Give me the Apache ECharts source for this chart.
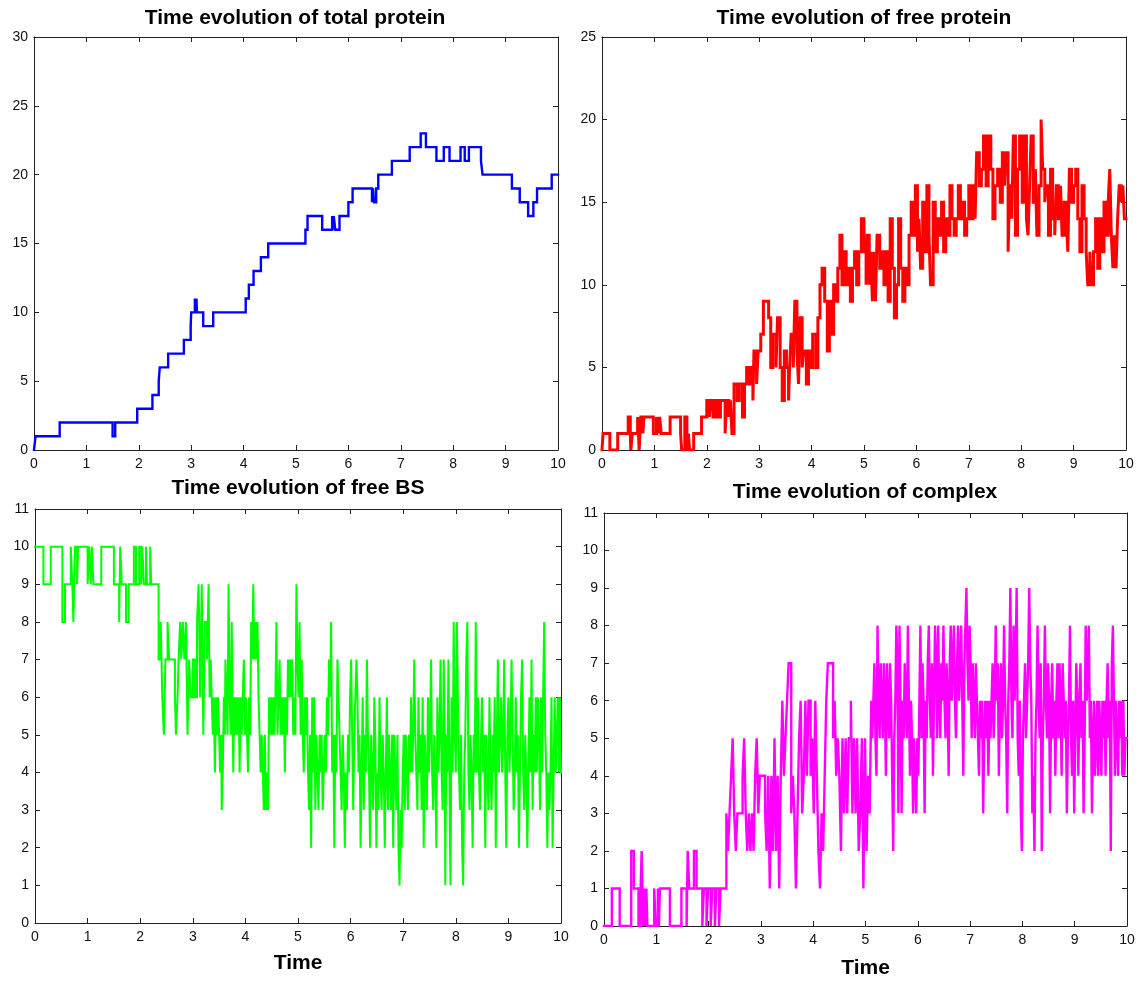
<!DOCTYPE html>
<html>
<head>
<meta charset="utf-8">
<script src="https://cdn.jsdelivr.net/npm/echarts@6/dist/echarts.min.js"></script>
<style>
  html, body { margin: 0; padding: 0; background: #fff; }
  #main { width: 1141px; height: 981px; }
</style>
</head>
<body>
<div id="main"></div>
<script>
// time axis ticks shared by all four panels
var timeTicks = [0, 1, 2, 3, 4, 5, 6, 7, 8, 9, 10];

// [time, count] pairs, drawn as stairs
var totalProtein = [
  [0,0],[0.03,1],[0.49,2],[1.50,1],[1.55,2],[1.97,3],[2.26,4],[2.38,5],[2.40,6],[2.56,7],
  [2.86,8],[2.99,9],[3.00,10],[3.07,11],[3.08,10],[3.10,11],[3.11,10],[3.23,9],[3.42,10],
  [4.04,11],[4.10,12],[4.19,13],[4.33,14],[4.47,15],[5.18,16],[5.22,17],[5.50,16],[5.69,17],
  [5.70,16],[5.72,17],[5.75,16],[5.83,17],[6.00,18],[6.08,19],[6.45,18],[6.47,19],[6.49,18],
  [6.53,19],[6.57,20],[6.83,21],[7.17,22],[7.38,23],[7.48,22],[7.68,21],[7.82,22],[7.93,21],
  [8.14,22],[8.22,21],[8.30,22],[8.53,21],[8.56,20],[9.12,19],[9.27,18],[9.43,17],[9.53,18],
  [9.60,19],[9.88,20],[10,20]
];

var freeProtein = [
  [0,0],[0.02,1],[0.15,0],[0.30,1],[0.50,2],[0.54,1],[0.55,0],[0.58,1],[0.68,2],[0.71,0],
  [0.74,2],[0.78,1],[0.80,2],[0.98,1],[1.04,2],[1.07,1],[1.10,2],[1.13,1],[1.30,2],[1.50,1],
  [1.52,0],[1.58,2],[1.62,0],[1.65,1],[1.67,0],[1.75,1],[1.90,2],[2.00,3],[2.05,2],[2.08,3],
  [2.12,2],[2.17,3],[2.22,2],[2.26,3],[2.35,1],[2.38,3],[2.42,2],[2.45,3],[2.48,1],[2.52,4],
  [2.58,3],[2.62,4],[2.68,2],[2.72,4],[2.76,5],[2.80,4],[2.84,5],[2.88,3],[2.90,6],[2.95,4],
  [2.98,6],[3.03,7],[3.08,9],[3.18,8],[3.22,5],[3.26,7],[3.32,5],[3.35,8],[3.40,5],[3.44,3],
  [3.48,6],[3.52,5],[3.56,3],[3.58,5],[3.61,7],[3.65,5],[3.68,9],[3.72,6],[3.75,4],[3.78,8],
  [3.82,5],[3.85,6],[3.90,4],[3.94,6],[3.98,5],[4.02,7],[4.08,5],[4.12,8],[4.16,10],[4.20,11],
  [4.25,9],[4.30,6],[4.34,9],[4.38,7],[4.42,10],[4.46,9],[4.50,11],[4.54,13],[4.58,10],[4.62,12],
  [4.66,10],[4.70,11],[4.74,9],[4.78,11],[4.82,12],[4.86,10],[4.90,12],[4.95,14],[5.00,12],[5.04,10],
  [5.06,13],[5.10,10],[5.13,12],[5.16,9],[5.19,12],[5.22,9],[5.25,13],[5.30,11],[5.34,12],[5.38,10],
  [5.42,12],[5.46,9],[5.50,14],[5.54,11],[5.58,8],[5.62,10],[5.66,14],[5.70,11],[5.74,9],[5.78,11],
  [5.82,10],[5.86,13],[5.90,15],[5.94,13],[5.98,16],[6.02,12],[6.05,14],[6.08,11],[6.12,15],[6.16,12],
  [6.20,16],[6.24,13],[6.27,10],[6.32,15],[6.36,12],[6.40,14],[6.44,13],[6.48,15],[6.52,12],[6.56,14],
  [6.60,13],[6.64,16],[6.68,14],[6.72,13],[6.76,14],[6.80,16],[6.84,14],[6.88,15],[6.92,13],[6.96,14],
  [7.00,16],[7.04,14],[7.08,16],[7.12,14],[7.15,18],[7.20,16],[7.24,17],[7.28,19],[7.33,16],[7.37,19],
  [7.42,17],[7.46,14],[7.50,16],[7.55,17],[7.60,15],[7.64,18],[7.68,16],[7.71,18],[7.75,12],[7.78,16],
  [7.82,14],[7.85,19],[7.89,13],[7.93,17],[7.97,19],[8.02,15],[8.06,19],[8.10,14],[8.13,13],[8.16,16],
  [8.19,19],[8.23,15],[8.27,17],[8.30,13],[8.34,16],[8.38,20],[8.41,17],[8.45,15],[8.48,16],[8.52,13],
  [8.56,17],[8.60,14],[8.64,13],[8.67,16],[8.71,14],[8.75,16],[8.78,13],[8.82,15],[8.86,14],[8.89,12],
  [8.92,17],[8.96,15],[9.00,16],[9.04,17],[9.08,14],[9.12,12],[9.16,16],[9.20,14],[9.24,12],[9.27,10],
  [9.31,12],[9.34,10],[9.38,12],[9.42,14],[9.46,11],[9.50,14],[9.54,12],[9.58,15],[9.62,13],[9.66,15],
  [9.69,17],[9.72,13],[9.75,11],[9.78,13],[9.81,11],[9.84,14],[9.87,16],[9.91,15],[9.94,16],[9.97,14],
  [10,14]
];

var freeBS = [
  [0,10],[0.16,9],[0.30,10],[0.52,8],[0.57,9],[0.68,10],[0.71,9],[0.73,8],[0.76,10],[0.80,9],
  [0.82,10],[1.00,9],[1.03,10],[1.06,9],[1.08,10],[1.11,9],[1.26,10],[1.50,9],[1.60,8],[1.62,10],
  [1.65,9],[1.73,8],[1.78,9],[1.88,10],[1.92,9],[1.98,10],[2.02,9],[2.04,10],[2.07,9],[2.11,10],
  [2.13,9],[2.19,10],[2.21,9],[2.35,7],[2.39,8],[2.42,6],[2.45,5],[2.48,7],[2.52,8],[2.55,7],
  [2.66,6],[2.68,5],[2.71,6],[2.73,7],[2.76,8],[2.78,7],[2.81,8],[2.84,7],[2.87,8],[2.90,5],
  [2.93,7],[2.96,6],[3.00,7],[3.04,6],[3.08,8],[3.11,9],[3.14,6],[3.17,9],[3.20,5],[3.23,8],
  [3.27,7],[3.30,9],[3.32,6],[3.34,7],[3.36,6],[3.38,5],[3.40,6],[3.42,4],[3.44,6],[3.46,5],
  [3.48,6],[3.50,5],[3.52,4],[3.54,5],[3.55,3],[3.57,4],[3.59,6],[3.61,5],[3.62,7],[3.64,6],
  [3.66,5],[3.68,9],[3.70,6],[3.72,5],[3.74,8],[3.76,5],[3.77,4],[3.79,6],[3.81,5],[3.83,6],
  [3.85,5],[3.87,6],[3.89,4],[3.91,6],[3.93,5],[3.95,6],[3.97,7],[3.99,5],[4.01,6],[4.03,5],
  [4.05,4],[4.07,6],[4.09,5],[4.11,8],[4.13,7],[4.15,9],[4.17,7],[4.19,8],[4.21,7],[4.23,8],
  [4.25,6],[4.27,5],[4.29,4],[4.31,5],[4.33,4],[4.35,3],[4.37,5],[4.39,3],[4.41,4],[4.43,3],
  [4.45,6],[4.47,5],[4.49,6],[4.51,5],[4.53,6],[4.55,5],[4.57,6],[4.59,8],[4.61,5],[4.63,6],
  [4.65,7],[4.67,5],[4.69,6],[4.71,5],[4.73,6],[4.75,4],[4.77,6],[4.79,5],[4.81,7],[4.83,6],
  [4.85,7],[4.87,6],[4.89,7],[4.91,5],[4.93,6],[4.95,5],[4.97,9],[4.99,7],[5.01,6],[5.03,8],
  [5.05,5],[5.07,7],[5.09,5],[5.11,4],[5.13,6],[5.15,5],[5.17,6],[5.19,4],[5.21,3],[5.23,5],
  [5.25,2],[5.27,6],[5.29,4],[5.31,6],[5.33,3],[5.35,5],[5.37,4],[5.39,3],[5.41,5],[5.43,4],
  [5.45,5],[5.47,3],[5.49,4],[5.51,5],[5.53,4],[5.55,6],[5.57,5],[5.59,7],[5.61,6],[5.63,8],
  [5.65,4],[5.67,5],[5.69,2],[5.71,5],[5.73,4],[5.75,7],[5.77,6],[5.79,5],[5.81,4],[5.83,3],
  [5.85,5],[5.87,4],[5.89,2],[5.91,4],[5.93,3],[5.95,5],[5.97,4],[5.99,6],[6.01,7],[6.03,5],
  [6.05,3],[6.07,5],[6.09,6],[6.11,7],[6.13,6],[6.15,4],[6.17,5],[6.19,2],[6.21,4],[6.23,6],
  [6.25,3],[6.27,5],[6.29,4],[6.31,7],[6.33,5],[6.35,4],[6.37,2],[6.39,5],[6.41,4],[6.43,3],
  [6.45,6],[6.47,5],[6.49,2],[6.51,4],[6.53,3],[6.55,6],[6.57,4],[6.59,3],[6.61,5],[6.63,4],
  [6.65,2],[6.67,4],[6.69,6],[6.71,3],[6.73,5],[6.75,4],[6.77,3],[6.79,5],[6.81,2],[6.83,5],
  [6.85,4],[6.87,3],[6.89,5],[6.91,2],[6.93,1],[6.95,3],[6.97,2],[6.99,4],[7.01,5],[7.03,3],
  [7.05,5],[7.07,4],[7.09,3],[7.11,5],[7.13,4],[7.15,6],[7.17,4],[7.19,5],[7.21,7],[7.23,5],
  [7.25,4],[7.27,3],[7.29,6],[7.31,4],[7.33,5],[7.35,3],[7.37,6],[7.39,2],[7.41,5],[7.43,4],
  [7.45,3],[7.47,6],[7.49,4],[7.51,5],[7.53,7],[7.55,4],[7.57,3],[7.59,5],[7.61,4],[7.63,2],
  [7.65,6],[7.67,4],[7.69,5],[7.71,7],[7.73,4],[7.75,3],[7.77,7],[7.79,5],[7.80,1],[7.82,5],
  [7.84,4],[7.86,7],[7.88,4],[7.89,2],[7.90,1],[7.92,6],[7.94,4],[7.96,8],[7.98,5],[8.00,4],
  [8.02,8],[8.04,6],[8.06,4],[8.08,3],[8.10,5],[8.12,2],[8.14,1],[8.16,4],[8.18,5],[8.20,7],
  [8.22,8],[8.24,4],[8.26,3],[8.28,5],[8.30,4],[8.32,2],[8.34,5],[8.36,4],[8.38,8],[8.40,4],
  [8.42,6],[8.44,4],[8.46,3],[8.48,5],[8.50,6],[8.52,4],[8.54,5],[8.56,2],[8.58,5],[8.60,4],
  [8.62,3],[8.64,6],[8.66,4],[8.68,3],[8.70,5],[8.72,4],[8.74,6],[8.76,2],[8.78,5],[8.80,7],
  [8.82,4],[8.84,5],[8.86,6],[8.88,4],[8.90,5],[8.92,7],[8.94,4],[8.96,2],[8.98,5],[9.00,6],
  [9.02,4],[9.04,5],[9.06,7],[9.08,5],[9.10,3],[9.12,4],[9.14,6],[9.16,4],[9.18,5],[9.20,2],
  [9.22,4],[9.24,6],[9.26,7],[9.28,4],[9.30,3],[9.32,5],[9.34,4],[9.36,2],[9.38,4],[9.40,6],
  [9.42,4],[9.44,7],[9.46,3],[9.48,5],[9.50,4],[9.52,6],[9.54,4],[9.56,6],[9.58,5],[9.60,3],
  [9.62,6],[9.64,4],[9.66,6],[9.68,8],[9.70,5],[9.72,4],[9.74,2],[9.76,4],[9.78,3],[9.80,4],
  [9.82,6],[9.84,2],[9.86,4],[9.88,6],[9.90,4],[9.92,5],[9.94,6],[9.96,4],[9.98,6],[10,4]
];

var complexCount = [
  [0,0],[0.15,1],[0.30,0],[0.52,2],[0.57,1],[0.66,0],[0.70,1],[0.72,2],[0.75,0],[0.77,1],
  [0.79,0],[0.81,1],[0.83,0],[0.96,1],[0.99,0],[1.03,1],[1.05,0],[1.07,1],[1.26,0],[1.48,1],
  [1.58,0],[1.60,2],[1.63,1],[1.72,2],[1.77,1],[1.88,0],[1.91,1],[1.96,0],[1.99,1],[2.04,0],
  [2.07,1],[2.12,0],[2.15,1],[2.20,0],[2.23,1],[2.34,3],[2.37,2],[2.40,3],[2.43,4],[2.46,5],
  [2.49,3],[2.52,2],[2.55,3],[2.65,4],[2.68,5],[2.71,3],[2.74,2],[2.77,3],[2.80,2],[2.83,3],
  [2.86,2],[2.89,4],[2.92,5],[2.95,3],[2.98,4],[3.08,3],[3.11,2],[3.14,4],[3.17,1],[3.20,4],
  [3.23,2],[3.26,5],[3.29,2],[3.32,4],[3.35,1],[3.38,4],[3.41,6],[3.44,4],[3.47,5],[3.50,6],
  [3.53,7],[3.58,3],[3.61,4],[3.64,3],[3.67,1],[3.70,3],[3.73,5],[3.76,6],[3.79,3],[3.82,4],
  [3.85,6],[3.88,4],[3.91,6],[3.95,4],[3.98,5],[4.01,3],[4.04,6],[4.07,4],[4.10,2],[4.13,1],
  [4.16,3],[4.19,2],[4.22,4],[4.25,6],[4.28,7],[4.38,5],[4.41,6],[4.44,4],[4.47,5],[4.50,4],
  [4.53,2],[4.56,5],[4.59,3],[4.62,5],[4.65,3],[4.68,5],[4.72,6],[4.75,3],[4.78,5],[4.81,3],
  [4.84,5],[4.87,2],[4.90,3],[4.93,5],[4.96,1],[4.99,5],[5.02,2],[5.05,4],[5.08,3],[5.11,6],
  [5.13,5],[5.15,6],[5.17,7],[5.19,5],[5.21,4],[5.23,8],[5.25,6],[5.27,5],[5.29,7],[5.31,6],
  [5.33,5],[5.35,7],[5.37,6],[5.39,4],[5.41,7],[5.43,6],[5.45,5],[5.47,7],[5.49,6],[5.51,4],
  [5.53,2],[5.55,5],[5.57,6],[5.59,8],[5.61,7],[5.63,3],[5.65,8],[5.67,6],[5.69,3],[5.71,6],
  [5.73,5],[5.75,7],[5.77,6],[5.79,5],[5.81,8],[5.83,6],[5.85,4],[5.87,6],[5.89,5],[5.91,3],
  [5.93,5],[5.95,4],[5.97,3],[5.99,5],[6.01,4],[6.03,6],[6.05,8],[6.07,5],[6.09,7],[6.11,6],
  [6.13,3],[6.15,6],[6.17,5],[6.19,7],[6.21,8],[6.23,6],[6.25,5],[6.27,7],[6.29,4],[6.31,6],
  [6.33,8],[6.35,7],[6.37,5],[6.39,8],[6.41,6],[6.43,5],[6.45,7],[6.47,6],[6.49,8],[6.51,6],
  [6.53,5],[6.55,7],[6.57,6],[6.59,4],[6.61,7],[6.63,8],[6.65,6],[6.67,7],[6.69,8],[6.71,6],
  [6.73,5],[6.75,7],[6.77,8],[6.79,6],[6.81,7],[6.83,8],[6.85,6],[6.87,4],[6.89,7],[6.91,8],
  [6.93,9],[6.95,7],[6.97,6],[6.99,8],[7.01,7],[7.03,5],[7.05,7],[7.07,6],[7.09,5],[7.11,7],
  [7.13,6],[7.15,5],[7.17,4],[7.19,6],[7.21,5],[7.23,6],[7.25,3],[7.27,5],[7.29,6],[7.31,5],
  [7.33,6],[7.35,4],[7.37,6],[7.39,5],[7.41,6],[7.43,7],[7.45,5],[7.47,6],[7.49,8],[7.51,6],
  [7.53,7],[7.55,4],[7.57,6],[7.59,7],[7.61,5],[7.63,6],[7.65,8],[7.67,6],[7.69,5],[7.71,3],
  [7.73,6],[7.75,7],[7.77,9],[7.79,6],[7.81,5],[7.83,8],[7.85,6],[7.87,7],[7.89,9],[7.91,5],
  [7.93,4],[7.95,6],[7.97,3],[7.99,2],[8.01,5],[8.03,6],[8.05,7],[8.07,5],[8.09,6],[8.11,7],
  [8.13,9],[8.15,7],[8.17,6],[8.19,3],[8.21,4],[8.23,2],[8.25,5],[8.27,6],[8.29,8],[8.31,6],
  [8.33,5],[8.35,7],[8.37,2],[8.39,5],[8.41,6],[8.43,8],[8.45,6],[8.47,5],[8.49,7],[8.51,6],
  [8.53,3],[8.55,6],[8.57,7],[8.59,5],[8.61,6],[8.63,4],[8.65,6],[8.67,7],[8.69,5],[8.71,7],
  [8.73,6],[8.75,4],[8.77,7],[8.79,6],[8.81,5],[8.83,6],[8.85,3],[8.87,5],[8.89,6],[8.91,8],
  [8.93,5],[8.95,4],[8.97,6],[8.99,3],[9.01,5],[9.03,7],[9.05,6],[9.07,4],[9.09,6],[9.11,7],
  [9.13,5],[9.15,6],[9.17,3],[9.19,5],[9.21,8],[9.23,6],[9.25,7],[9.27,8],[9.29,5],[9.31,6],
  [9.33,3],[9.35,5],[9.37,6],[9.39,4],[9.41,5],[9.43,6],[9.45,4],[9.47,6],[9.49,5],[9.51,4],
  [9.53,6],[9.55,5],[9.57,6],[9.59,4],[9.61,6],[9.63,7],[9.65,5],[9.67,6],[9.69,2],[9.71,7],
  [9.73,8],[9.75,6],[9.77,4],[9.79,6],[9.81,5],[9.83,4],[9.85,6],[9.87,5],[9.89,6],[9.91,4],
  [9.93,6],[9.95,4],[9.97,5],[10,5]
];

var FONT = "'Liberation Sans', Arial, sans-serif";
var AXIS_COLOR = '#222';

var panels = [
  { title: 'Time evolution of total protein', data: totalProtein, color: '#0000ff', lineWidth: 2.4,
    yMax: 30, yStep: 5, grid: { left: 34, top: 37, width: 524, height: 413 }, titlePos: [295, 18], xName: '' },
  { title: 'Time evolution of free protein', data: freeProtein, color: '#ff0000', lineWidth: 3,
    yMax: 25, yStep: 5, grid: { left: 602, top: 37, width: 524, height: 413 }, titlePos: [864, 18], xName: '' },
  { title: 'Time evolution of free BS', data: freeBS, color: '#00ff00', lineWidth: 2,
    yMax: 11, yStep: 1, grid: { left: 35, top: 509, width: 526, height: 414 }, titlePos: [298, 488], xName: 'Time', nameGap: 30 },
  { title: 'Time evolution of complex', data: complexCount, color: '#ff00ff', lineWidth: 2.4,
    yMax: 11, yStep: 1, grid: { left: 604, top: 513, width: 523, height: 413 }, titlePos: [865, 492], xName: 'Time', nameGap: 32 }
];

var chart = echarts.init(document.getElementById('main'));

var grids = [], xAxes = [], yAxes = [], series = [], texts = [];

function axisBase(show) {
  return {
    axisLine: { show: true, onZero: false, lineStyle: { color: AXIS_COLOR, width: 1 } },
    axisTick: { show: true, inside: true, length: 5, lineStyle: { color: AXIS_COLOR } },
    axisLabel: { show: show, color: '#111', fontSize: 14, fontFamily: FONT },
    splitLine: { show: false }
  };
}

panels.forEach(function (p, i) {
  grids.push(Object.assign({ containLabel: false }, p.grid));

  var xb = axisBase(true);
  xb.axisLabel.margin = 7;
  xAxes.push(Object.assign(xb, {
    gridIndex: i, type: 'value', position: 'bottom',
    min: timeTicks[0], max: timeTicks[timeTicks.length - 1], interval: 1,
    name: p.xName, nameLocation: 'middle', nameGap: p.nameGap || 30,
    nameTextStyle: { fontSize: 21, fontWeight: 'bold', fontFamily: FONT, color: '#000' }
  }));
  xAxes.push(Object.assign(axisBase(false), {
    gridIndex: i, type: 'value', position: 'top',
    min: timeTicks[0], max: timeTicks[timeTicks.length - 1], interval: 1
  }));

  var yl = axisBase(true);
  yl.axisLabel.margin = 6;
  yAxes.push(Object.assign(yl, {
    gridIndex: i, type: 'value', position: 'left', min: 0, max: p.yMax, interval: p.yStep
  }));
  yAxes.push(Object.assign(axisBase(false), {
    gridIndex: i, type: 'value', position: 'right', min: 0, max: p.yMax, interval: p.yStep
  }));

  series.push({
    type: 'line', name: p.title, xAxisIndex: 2 * i, yAxisIndex: 2 * i,
    data: p.data, step: 'end', showSymbol: false, symbol: 'none',
    lineStyle: { color: p.color, width: p.lineWidth, cap: 'square', join: 'miter' },
    itemStyle: { color: p.color }, clip: true
  });

  texts.push({
    type: 'text', x: p.titlePos[0], y: p.titlePos[1],
    style: { text: p.title, fill: '#000', font: 'bold 21px ' + FONT, textAlign: 'center', textVerticalAlign: 'middle' }
  });
});

chart.setOption({
  animation: false,
  backgroundColor: '#fff',
  grid: grids,
  xAxis: xAxes,
  yAxis: yAxes,
  series: series,
  graphic: texts
});
</script>
</body>
</html>
